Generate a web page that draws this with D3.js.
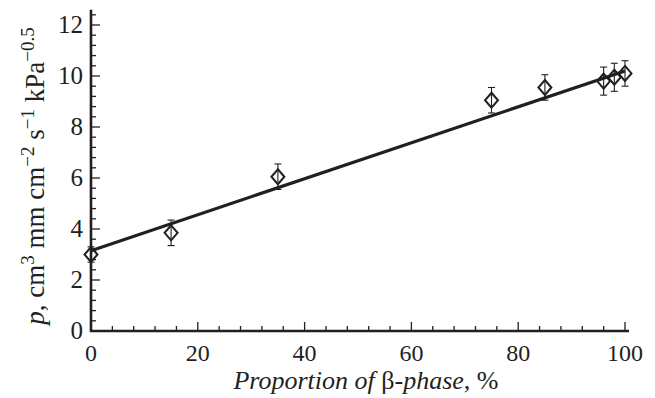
<!DOCTYPE html>
<html lang="en">
<head>
<meta charset="UTF-8">
<title>Permeability vs beta-phase</title>
<script src="https://d3js.org/d3.v7.min.js"></script>
<style>
  body { margin: 0; background: #fff; }
  svg text { font-family: "Liberation Serif", "DejaVu Serif", serif; fill: #231f20; }
</style>
</head>
<body>
<div id="chart"></div>
<script>
// measured points
const betaPct = [0, 15, 35, 75, 85, 96, 98, 100];
const pValue = [3.0, 3.85, 6.05, 9.05, 9.55, 9.8, 9.95, 10.1];
const pErr = [0.3, 0.5, 0.5, 0.5, 0.5, 0.55, 0.55, 0.5];
// fitted line end points
const fitX = [0, 100];
const fitY = [3.15, 10.2];
const xTicks = [0, 20, 40, 60, 80, 100];
const yTicks = [0, 2, 4, 6, 8, 10, 12];

const W = 655, H = 398;
const ink = "#231f20";

const svg = d3.select("#chart").append("svg")
    .attr("width", W).attr("height", H);

const x = d3.scaleLinear().domain([0, 100]).range([91, 625]);
const y = d3.scaleLinear().domain([0, 12]).range([331, 25]);

// minor ticks
const xMinor = d3.range(0, 101, 4).filter(v => v % 20 !== 0);
const yMinor = d3.range(0, 12.61, 0.4).map(v => +v.toFixed(1)).filter(v => Math.abs(v % 2) > 0.01);

const g = svg.append("g");
g.selectAll(".xminor").data(xMinor).enter().append("line")
    .attr("x1", d => x(d)).attr("x2", d => x(d))
    .attr("y1", y(0)).attr("y2", y(0) - 5)
    .attr("stroke", ink).attr("stroke-width", 1.3);
g.selectAll(".xmajor").data(xTicks).enter().append("line")
    .attr("x1", d => x(d)).attr("x2", d => x(d))
    .attr("y1", y(0)).attr("y2", y(0) - 9)
    .attr("stroke", ink).attr("stroke-width", 1.3);
g.selectAll(".yminor").data(yMinor).enter().append("line")
    .attr("x1", x(0)).attr("x2", x(0) + 5)
    .attr("y1", d => y(d)).attr("y2", d => y(d))
    .attr("stroke", ink).attr("stroke-width", 1.3);
g.selectAll(".ymajor").data(yTicks).enter().append("line")
    .attr("x1", x(0)).attr("x2", x(0) + 9)
    .attr("y1", d => y(d)).attr("y2", d => y(d))
    .attr("stroke", ink).attr("stroke-width", 1.3);

// axis lines
g.append("line").attr("x1", x(0)).attr("x2", x(0))
    .attr("y1", y(0) + 1).attr("y2", y(12.6))
    .attr("stroke", ink).attr("stroke-width", 2.6);
g.append("line").attr("x1", x(0) - 1).attr("x2", x(100) + 4)
    .attr("y1", y(0)).attr("y2", y(0))
    .attr("stroke", ink).attr("stroke-width", 2.6);

// tick labels
g.selectAll(".xlab").data(xTicks).enter().append("text")
    .attr("x", d => x(d)).attr("y", 361)
    .attr("text-anchor", "middle").attr("font-size", 24)
    .text(d => d);
g.selectAll(".ylab").data(yTicks).enter().append("text")
    .attr("x", 83).attr("y", d => y(d) + 8)
    .attr("text-anchor", "end").attr("font-size", 25)
    .text(d => d);

// x axis title
const xt = svg.append("text")
    .attr("x", 366).attr("y", 389)
    .attr("text-anchor", "middle").attr("font-size", 26);
xt.append("tspan").attr("font-style", "italic").text("Proportion of ");
xt.append("tspan").text("β");
xt.append("tspan").attr("font-style", "italic").text("-phase");
xt.append("tspan").text(", %");

// y axis title
const yt = svg.append("text")
    .attr("transform", "translate(44,176) rotate(-90)")
    .attr("text-anchor", "middle").attr("font-size", 27);
yt.append("tspan").attr("font-style", "italic").text("p");
yt.append("tspan").text(",  cm");
yt.append("tspan").attr("font-size", 19).attr("dy", -10).text("3");
yt.append("tspan").attr("dy", 10).text(" mm cm");
yt.append("tspan").attr("font-size", 19).attr("dy", -10).text("\u22122");
yt.append("tspan").attr("dy", 10).text(" s");
yt.append("tspan").attr("font-size", 19).attr("dy", -10).text("\u22121");
yt.append("tspan").attr("dy", 10).text(" kPa");
yt.append("tspan").attr("font-size", 19).attr("dy", -10).text("\u22120.5");

// fit line
const fit = fitX.map((d, i) => [d, fitY[i]]);
svg.append("path")
    .datum(fit)
    .attr("d", d3.line().x(d => x(d[0])).y(d => y(d[1])))
    .attr("stroke", ink).attr("stroke-width", 3.2).attr("fill", "none");

// error bars
const pts = betaPct.map((d, i) => ({ b: d, p: pValue[i], e: pErr[i] }));
const eb = svg.selectAll(".err").data(pts).enter().append("g");
eb.append("line")
    .attr("x1", d => x(d.b)).attr("x2", d => x(d.b))
    .attr("y1", d => y(d.p - d.e)).attr("y2", d => y(d.p + d.e))
    .attr("stroke", ink).attr("stroke-width", 1.1);
eb.append("line")
    .attr("x1", d => x(d.b) - 3.5).attr("x2", d => x(d.b) + 3.5)
    .attr("y1", d => y(d.p - d.e)).attr("y2", d => y(d.p - d.e))
    .attr("stroke", ink).attr("stroke-width", 1.1);
eb.append("line")
    .attr("x1", d => x(d.b) - 3.5).attr("x2", d => x(d.b) + 3.5)
    .attr("y1", d => y(d.p + d.e)).attr("y2", d => y(d.p + d.e))
    .attr("stroke", ink).attr("stroke-width", 1.1);

// diamonds
svg.selectAll(".dia").data(pts).enter().append("path")
    .attr("transform", d => `translate(${x(d.b)},${y(d.p)})`)
    .attr("d", "M0,-7.5 L6.5,0 L0,7.5 L-6.5,0 Z")
    .attr("fill", "none").attr("stroke", ink).attr("stroke-width", 2);
</script>
</body>
</html>
